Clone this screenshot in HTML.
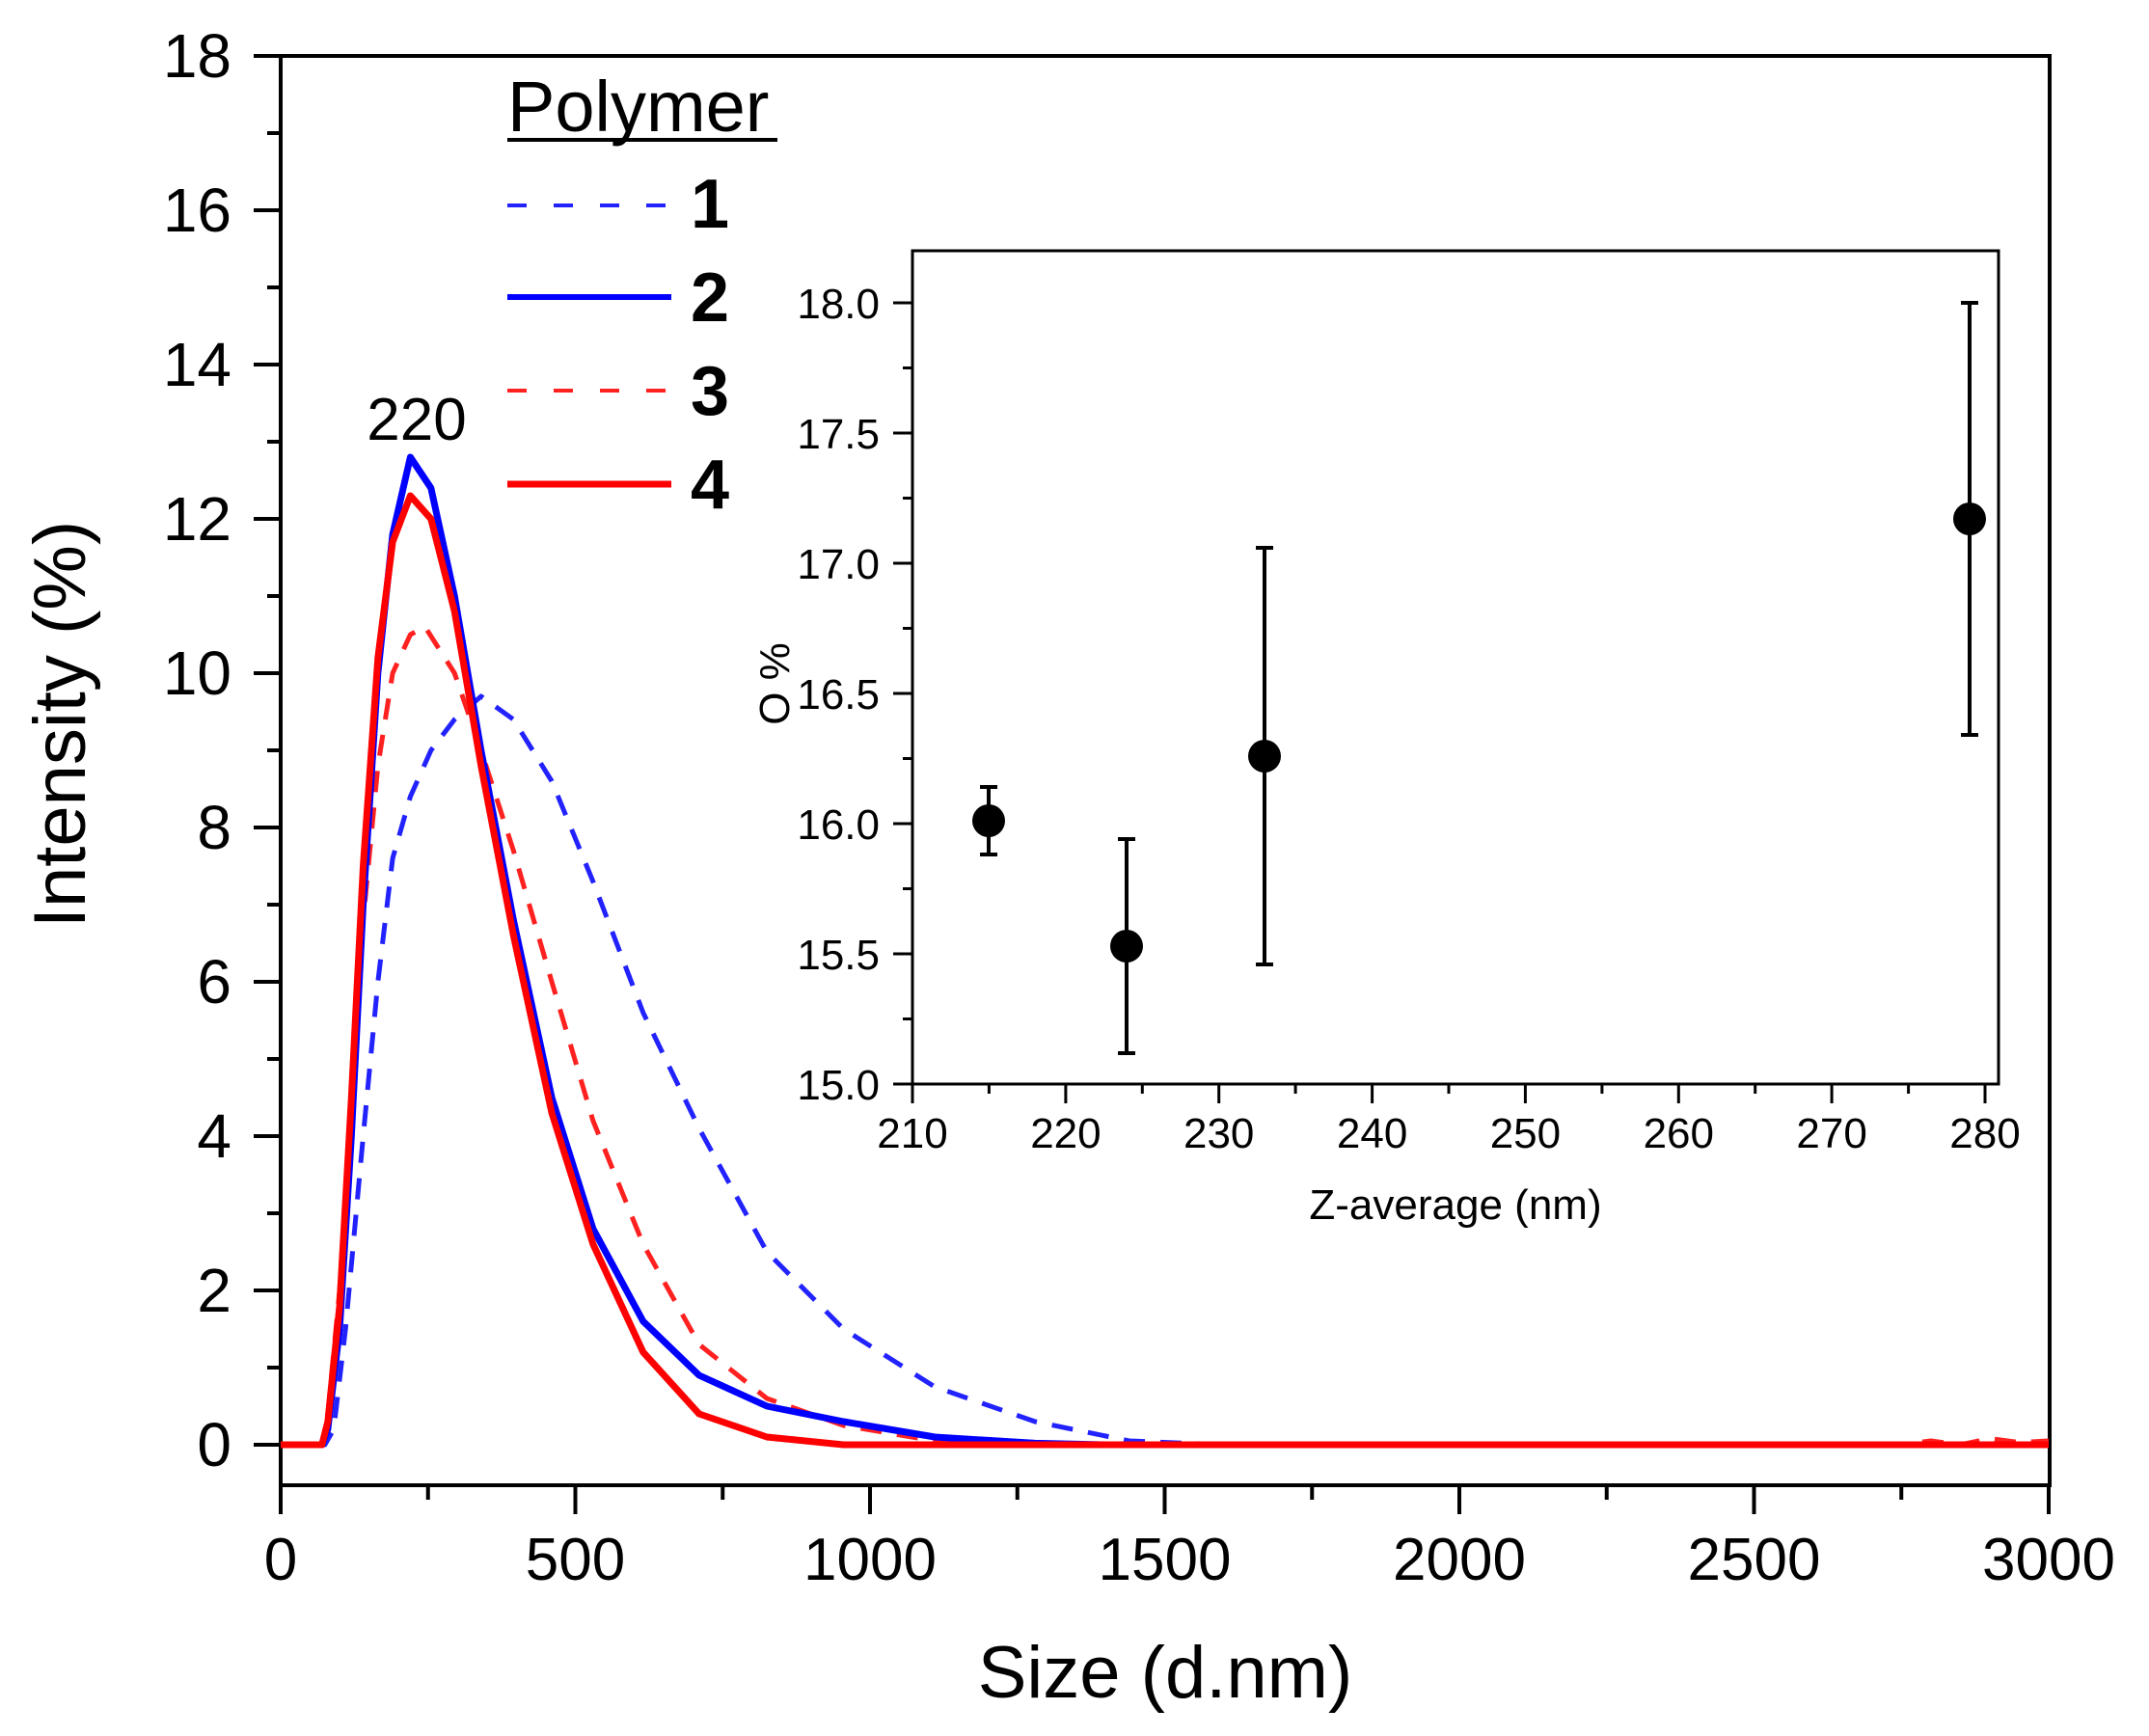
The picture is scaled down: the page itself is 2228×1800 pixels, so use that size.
<!DOCTYPE html>
<html><head><meta charset="utf-8"><style>
html,body{margin:0;padding:0;background:#fff;}
svg{display:block;font-family:"Liberation Sans",Arial,sans-serif;}
</style></head><body>
<svg width="2228" height="1800" viewBox="0 0 2228 1800" xmlns="http://www.w3.org/2000/svg">
<rect width="2228" height="1800" fill="#fff"/>
<g stroke="#000" stroke-width="4" fill="none">
<path d="M291 58 H2125 V1540 H291 Z"/>
<path d="M263 58H291 M263 218H291 M263 378H291 M263 538H291 M263 698H291 M263 858H291 M263 1018H291 M263 1178H291 M263 1338H291 M263 1498H291"/>
<path d="M277 138H291 M277 298H291 M277 458H291 M277 618H291 M277 778H291 M277 938H291 M277 1098H291 M277 1258H291 M277 1418H291"/>
<path d="M291 1540V1570 M596.5 1540V1570 M902 1540V1570 M1207.5 1540V1570 M1513 1540V1570 M1818.5 1540V1570 M2124 1540V1570"/>
<path d="M443.75 1540V1555 M749.25 1540V1555 M1054.75 1540V1555 M1360.25 1540V1555 M1665.75 1540V1555 M1971.25 1540V1555"/>
</g>
<g font-size="64" fill="#000" text-anchor="end">
<text x="240" y="80">18</text><text x="240" y="240">16</text><text x="240" y="400">14</text><text x="240" y="560">12</text><text x="240" y="720">10</text><text x="240" y="880">8</text><text x="240" y="1040">6</text><text x="240" y="1200">4</text><text x="240" y="1360">2</text><text x="240" y="1520">0</text>
</g>
<g font-size="62" fill="#000" text-anchor="middle">
<text x="291" y="1638">0</text><text x="596.5" y="1638">500</text><text x="902" y="1638">1000</text><text x="1207.5" y="1638">1500</text><text x="1513" y="1638">2000</text><text x="1818.5" y="1638">2500</text><text x="2124" y="1638">3000</text>
</g>
<text x="1208" y="1760" font-size="76" text-anchor="middle">Size (d.nm)</text>
<text transform="translate(88,751) rotate(-90)" font-size="76" text-anchor="middle">Intensity (%)</text>
<text x="432" y="456" font-size="62" text-anchor="middle">220</text>

<g fill="none" stroke-linejoin="round">
<g transform="translate(291,1498) scale(0.6110,-80)">
<polyline vector-effect="non-scaling-stroke" stroke="#2222ff" stroke-width="5" stroke-dasharray="22 16" points="0,0 75,0 90,0.2 110,1.5 140,4 165,6 190,7.6 220,8.4 255,9 295,9.4 340,9.7 395,9.4 460,8.6 530,7.3 615,5.6 710,4.1 825,2.5 955,1.5 1110,0.75 1280,0.3 1440,0.05 1600,0"/>
<polyline vector-effect="non-scaling-stroke" stroke="#ff2020" stroke-width="5" stroke-dasharray="22 16" points="0,0 70,0 80,0.4 100,2 120,4.5 140,6.8 165,8.8 190,10 220,10.5 245,10.6 295,10 340,9 395,7.7 460,6 530,4.2 615,2.6 710,1.3 825,0.6 955,0.25 1110,0.05 1300,0 2750,0 2800,0.05 2850,0 2900,0.08 2950,0.03 3000,0.05"/>
<polyline vector-effect="non-scaling-stroke" stroke="#0000ff" stroke-width="7" points="0,0 70,0 80,0.2 100,1.5 120,4 140,7 165,10 190,11.8 220,12.8 255,12.4 295,11 340,9 395,6.8 460,4.5 530,2.8 615,1.6 710,0.9 825,0.5 955,0.3 1110,0.1 1280,0.02 1400,0 3000,0"/>
<polyline vector-effect="non-scaling-stroke" stroke="#ff0000" stroke-width="7" points="0,0 70,0 80,0.3 100,1.8 120,4.5 140,7.5 165,10.2 190,11.7 220,12.3 255,12 295,10.8 340,8.8 395,6.6 460,4.3 530,2.6 615,1.2 710,0.4 825,0.1 955,0 3000,0"/>
</g>
</g>

<text x="526" y="136" font-size="74">Polymer</text>
<line x1="526" y1="145" x2="806" y2="145" stroke="#000" stroke-width="4"/>
<line x1="526" y1="213" x2="696" y2="213" stroke="#2222ff" stroke-width="4" stroke-dasharray="20 28"/>
<line x1="526" y1="308" x2="696" y2="308" stroke="#0000ff" stroke-width="6"/>
<line x1="526" y1="405" x2="696" y2="405" stroke="#ff2020" stroke-width="4" stroke-dasharray="20 28"/>
<line x1="526" y1="502" x2="696" y2="502" stroke="#ff0000" stroke-width="7"/>
<g font-size="72" font-weight="bold">
<text x="716" y="236">1</text><text x="716" y="333">2</text><text x="716" y="430">3</text><text x="716" y="527">4</text>
</g>

<rect x="946" y="260" width="1126" height="864" fill="#fff" stroke="#000" stroke-width="3"/>
<g stroke="#000" stroke-width="3" fill="none">
<path d="M926 314H946 M926 449H946 M926 584H946 M926 719H946 M926 854H946 M926 989H946 M926 1124H946"/>
<path d="M936 381.5H946 M936 516.5H946 M936 651.5H946 M936 786.5H946 M936 921.5H946 M936 1056.5H946"/>
<path d="M946 1124V1144 M1104.9 1124V1144 M1263.7 1124V1144 M1422.6 1124V1144 M1581.4 1124V1144 M1740.3 1124V1144 M1899.1 1124V1144 M2058 1124V1144"/>
<path d="M1025.4 1124V1134 M1184.3 1124V1134 M1343.1 1124V1134 M1502 1124V1134 M1660.9 1124V1134 M1819.7 1124V1134 M1978.6 1124V1134"/>
</g>
<g font-size="44" text-anchor="end">
<text x="912" y="330">18.0</text><text x="912" y="465">17.5</text><text x="912" y="600">17.0</text><text x="912" y="735">16.5</text><text x="912" y="870">16.0</text><text x="912" y="1005">15.5</text><text x="912" y="1140">15.0</text>
</g>
<g font-size="44" text-anchor="middle">
<text x="946" y="1190">210</text><text x="1104.9" y="1190">220</text><text x="1263.7" y="1190">230</text><text x="1422.6" y="1190">240</text><text x="1581.4" y="1190">250</text><text x="1740.3" y="1190">260</text><text x="1899.1" y="1190">270</text><text x="2058" y="1190">280</text>
</g>
<text x="1509" y="1264" font-size="44" text-anchor="middle">Z-average (nm)</text>
<text transform="translate(818,709) rotate(-90)" font-size="44" text-anchor="middle">O %</text>
<g stroke="#000" stroke-width="4">
<path d="M1025 816V886 M1016 816H1034 M1016 886H1034"/>
<path d="M1168 870V1092 M1159 870H1177 M1159 1092H1177"/>
<path d="M1311 568V1000 M1302 568H1320 M1302 1000H1320"/>
<path d="M2042 314V762 M2033 314H2051 M2033 762H2051"/>
</g>
<g fill="#000">
<ellipse cx="1025" cy="851" rx="17" ry="17"/>
<ellipse cx="1168" cy="981" rx="17" ry="17"/>
<ellipse cx="1311" cy="784" rx="17" ry="17"/>
<ellipse cx="2042" cy="538" rx="17" ry="17"/>
</g>
</svg>
</body></html>
